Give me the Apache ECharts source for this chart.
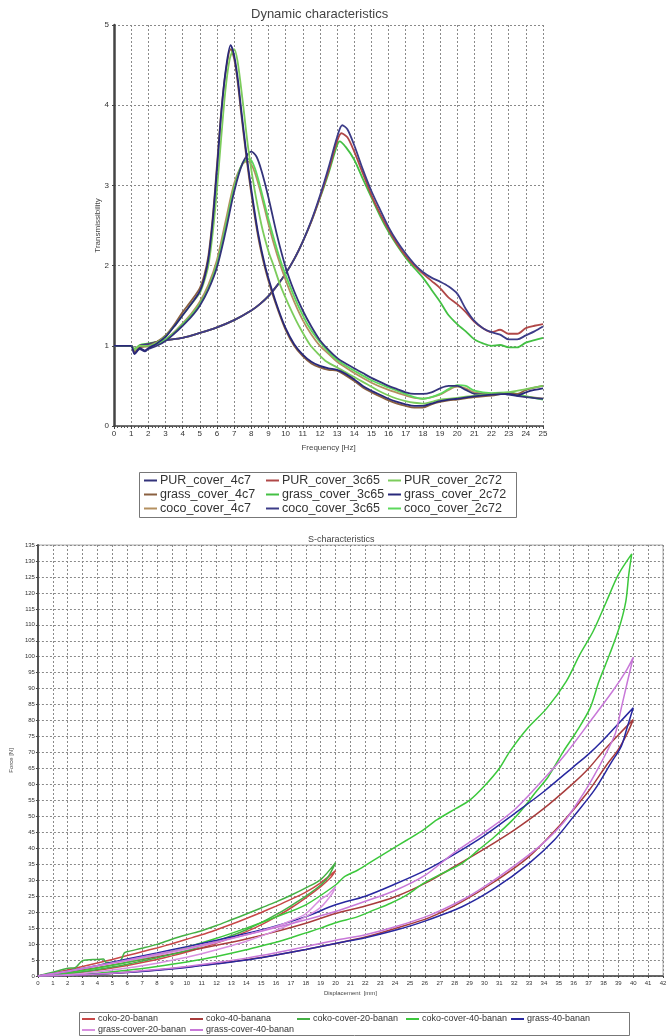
<!DOCTYPE html>
<html>
<head>
<meta charset="utf-8">
<script src="https://cdn.jsdelivr.net/npm/echarts@6/dist/echarts.min.js"></script>
<style>
  html, body { margin: 0; padding: 0; background: #fff; }
  #main { width: 671px; height: 1036px; }
</style>
</head>
<body>
<div id="main"></div>
<script>
// ---- Dynamic characteristics: [frequency Hz, transmissibility] ----
const PUR_cover_4c7 = [[0,1.0],[1,1.0],[1.2,0.9],[1.5,0.96],[1.8,0.93],[2,0.96],[2.5,1.0],[3,1.06],[3.5,1.15],[4,1.25],[4.5,1.36],[5,1.5],[5.5,1.7],[6,1.98],[6.5,2.42],[7,2.92],[7.5,3.28],[8,3.42],[8.3,3.36],[8.6,3.18],[9,2.85],[9.5,2.38],[10,1.98],[10.5,1.68],[11,1.44],[11.5,1.24],[12,1.07],[12.5,0.95],[13,0.85],[13.5,0.78],[14,0.72],[14.5,0.66],[15,0.6],[15.5,0.55],[16,0.5],[16.5,0.46],[17,0.42],[17.5,0.4],[18,0.4],[18.5,0.42],[19,0.47],[19.5,0.5],[20,0.5],[20.5,0.45],[21,0.4],[22,0.39],[22.5,0.41],[23,0.39],[24,0.36],[25,0.34]];
const PUR_cover_3c65 = [[0,1.0],[1,1.0],[1.2,0.96],[1.5,1.0],[2,1.02],[2.5,1.05],[3,1.07],[4,1.1],[5,1.16],[6,1.23],[7,1.32],[8,1.44],[8.5,1.52],[9,1.62],[9.5,1.75],[10,1.9],[10.5,2.08],[11,2.3],[11.5,2.55],[12,2.85],[12.5,3.18],[13,3.55],[13.25,3.65],[13.6,3.6],[14,3.42],[14.5,3.15],[15,2.88],[15.5,2.65],[16,2.45],[16.5,2.27],[17,2.12],[17.5,2.0],[18,1.9],[18.5,1.81],[19,1.72],[19.5,1.6],[20,1.52],[20.5,1.42],[21,1.3],[21.5,1.22],[22,1.17],[22.5,1.2],[23,1.15],[23.5,1.15],[24,1.22],[24.5,1.25],[25,1.27]];
const PUR_cover_2c72 = [[0,1.0],[1,1.0],[1.2,0.95],[1.5,1.0],[2,1.0],[2.5,1.04],[3,1.12],[3.5,1.24],[4,1.38],[4.5,1.52],[5,1.66],[5.25,1.8],[5.5,2.0],[5.75,2.4],[6,2.95],[6.25,3.6],[6.5,4.2],[6.75,4.58],[7.0,4.7],[7.2,4.55],[7.5,4.05],[7.8,3.5],[8.15,3.0],[8.6,2.5],[9.0,2.18],[9.3,2.0],[9.7,1.75],[10.2,1.5],[10.6,1.32],[10.9,1.2],[11.4,1.02],[11.9,0.9],[12.4,0.8],[13,0.73],[13.5,0.67],[14,0.61],[14.5,0.55],[15,0.49],[15.5,0.43],[16,0.38],[16.5,0.34],[17,0.31],[17.5,0.29],[18,0.28],[18.5,0.3],[19,0.33],[20,0.35],[21,0.38],[22,0.4],[23,0.42],[24,0.46],[25,0.5]];
const grass_cover_4c7 = [[0,1.0],[1,1.0],[1.2,0.92],[1.5,0.98],[2,1.0],[2.5,1.05],[3,1.13],[3.5,1.26],[4,1.42],[4.5,1.56],[5,1.72],[5.25,1.87],[5.5,2.12],[5.75,2.6],[6,3.25],[6.25,3.92],[6.5,4.4],[6.8,4.7],[7.0,4.58],[7.2,4.3],[7.4,3.92],[7.7,3.38],[8,2.9],[8.4,2.36],[8.8,1.97],[9.2,1.67],[9.6,1.42],[10,1.2],[10.5,1.0],[11,0.87],[11.5,0.78],[12,0.73],[12.5,0.7],[13,0.69],[13.5,0.63],[14,0.56],[14.5,0.48],[15,0.42],[15.5,0.37],[16,0.32],[16.5,0.28],[17,0.25],[17.5,0.23],[18,0.23],[18.5,0.27],[19,0.3],[19.5,0.32],[20,0.33],[21,0.36],[22,0.38],[23,0.41],[23.5,0.4],[24,0.45],[24.5,0.48],[25,0.5]];
const grass_cover_3c65 = [[0,1.0],[1,1.0],[1.2,0.96],[1.5,1.01],[2,1.03],[2.5,1.05],[3,1.07],[4,1.1],[5,1.16],[6,1.23],[7,1.32],[8,1.44],[8.5,1.52],[9,1.62],[9.5,1.75],[10,1.9],[10.5,2.08],[11,2.3],[11.5,2.55],[12,2.84],[12.5,3.15],[13,3.5],[13.15,3.55],[13.5,3.48],[14,3.32],[14.5,3.08],[15,2.85],[15.5,2.62],[16,2.42],[16.5,2.25],[17,2.1],[17.5,1.97],[18,1.85],[18.5,1.7],[19,1.55],[19.5,1.38],[20,1.27],[20.5,1.18],[21,1.08],[21.5,1.03],[22,1.0],[22.5,1.01],[23,0.98],[23.5,0.98],[24,1.04],[24.5,1.07],[25,1.1]];
const grass_cover_2c72 = [[0,1.0],[0.5,1.0],[1,1.0],[1.2,0.9],[1.5,0.97],[1.8,0.94],[2,0.97],[2.5,1.03],[3,1.11],[3.5,1.24],[4,1.38],[4.5,1.52],[5,1.68],[5.25,1.83],[5.5,2.08],[5.75,2.55],[6,3.2],[6.25,3.9],[6.5,4.42],[6.8,4.75],[7.0,4.62],[7.2,4.35],[7.4,3.97],[7.7,3.42],[8,2.95],[8.4,2.4],[8.8,2.0],[9.2,1.7],[9.6,1.44],[10,1.22],[10.5,1.02],[11,0.89],[11.5,0.8],[12,0.75],[12.5,0.72],[13,0.7],[13.5,0.65],[14,0.58],[14.5,0.5],[15,0.44],[15.5,0.39],[16,0.34],[16.5,0.3],[17,0.27],[17.5,0.25],[18,0.25],[18.5,0.28],[19,0.31],[19.5,0.33],[20,0.34],[21,0.37],[22,0.39],[23,0.4],[23.5,0.38],[24,0.42],[24.5,0.45],[25,0.47]];
const coco_cover_4c7 = [[0,1.0],[1,1.0],[1.2,0.94],[1.5,0.99],[2,0.99],[2.5,1.02],[3,1.08],[3.5,1.17],[4,1.28],[4.5,1.4],[5,1.55],[5.5,1.76],[6,2.07],[6.5,2.55],[7,3.02],[7.5,3.27],[7.8,3.3],[8.1,3.22],[8.5,2.95],[9,2.52],[9.5,2.14],[10,1.82],[10.5,1.55],[11,1.32],[11.5,1.14],[12,1.0],[12.5,0.9],[13,0.8],[13.5,0.73],[14,0.66],[15,0.54],[16,0.45],[17,0.38],[17.5,0.35],[18,0.34],[19,0.39],[19.5,0.45],[20,0.49],[20.5,0.47],[21,0.42],[22,0.4],[23,0.4],[24,0.37],[25,0.34]];
const coco_cover_3c65 = [[0,1.0],[1,1.0],[1.2,0.95],[1.5,1.0],[2,1.02],[2.5,1.05],[3,1.07],[4,1.1],[5,1.16],[6,1.23],[7,1.32],[8,1.44],[8.5,1.52],[9,1.62],[9.5,1.75],[10,1.9],[10.5,2.08],[11,2.3],[11.5,2.56],[12,2.87],[12.5,3.22],[13,3.6],[13.3,3.75],[13.6,3.7],[14,3.5],[14.5,3.2],[15,2.93],[15.5,2.7],[16,2.48],[16.5,2.3],[17,2.15],[17.5,2.02],[18,1.92],[18.5,1.85],[19,1.8],[19.5,1.74],[20,1.65],[20.5,1.46],[21,1.31],[21.5,1.22],[22,1.17],[22.5,1.14],[23,1.08],[23.5,1.08],[24,1.13],[24.5,1.18],[25,1.24]];
const coco_cover_2c72 = [[0,1.0],[1,1.0],[1.2,0.96],[1.5,1.0],[2,1.0],[2.5,1.02],[3,1.08],[3.5,1.16],[4,1.27],[4.5,1.38],[5,1.52],[5.5,1.72],[6,2.02],[6.5,2.48],[7,2.97],[7.5,3.28],[7.9,3.33],[8.2,3.22],[8.5,3.0],[9,2.58],[9.5,2.2],[9.8,2.0],[10.3,1.72],[10.8,1.47],[11.3,1.26],[11.8,1.1],[12.3,0.97],[12.8,0.86],[13.3,0.78],[14,0.69],[15,0.57],[16,0.48],[17,0.4],[17.5,0.36],[18,0.34],[18.5,0.36],[19,0.4],[19.5,0.46],[20,0.51],[20.5,0.5],[21,0.44],[22,0.41],[23,0.42],[24,0.37],[25,0.33]];

// ---- S-characteristics: [displacement mm, force N], loading then unloading ----
const coko20 = [[0,0],[1,0.9],[2,1.9],[3,3],[4,4.1],[5,5.2],[6,6.4],[7,7.6],[8,8.8],[9,10.1],[10,11.5],[11,12.9],[12,14.5],[13,16.2],[14,18],[15,19.9],[16,21.9],[17,24],[18,26.3],[19,29.2],[20,33],[19.7,31],[19,28],[18,24.5],[17,21.3],[16,18.5],[15,16],[14,13.9],[13,12],[12,10.3],[11,8.8],[10,7.5],[9,6.3],[8,5.2],[7,4.2],[6,3.3],[5,2.5],[4,1.8],[3,1.2],[2,0.7],[1,0.3],[0,0]];
const coko40 = [[0,0],[2,1.2],[4,2.6],[6,4.3],[8,6],[10,7.8],[12,9.6],[14,11.6],[16,13.9],[18,16.5],[20,19.6],[22,21.9],[24,24.8],[26,29],[28,34.3],[30,39.8],[32,45.7],[34,52.5],[36,60.5],[37,65],[38,70.5],[39,75.5],[40,80.3],[39.6,76],[39,71],[38.2,66],[36.9,57.3],[35.2,47.9],[33,37.4],[30.7,29.6],[28.5,23.3],[26.3,18.3],[24,14.9],[22,12.2],[20,10.2],[18,8.3],[16,6.6],[14,5.1],[12,3.9],[10,2.8],[8,1.9],[6,1.2],[4,0.6],[2,0.2],[0,0]];
const cokoCover20 = [[0,0],[1,1.2],[2,2.4],[2.5,2.6],[3,4.8],[4,5.2],[4.4,5.3],[4.6,4.2],[5.5,4.6],[5.8,7.2],[6,7.6],[7,8.7],[8,9.9],[9,11.5],[10,12.9],[11,14.2],[12,15.8],[13,17.6],[14,19.4],[15,21.3],[16,23.2],[17,25.3],[18,27.6],[19,30.2],[20,35.5],[19.5,31],[19,28.5],[18,25],[17,22],[16,19.2],[15,16.7],[14,14.5],[13,12.6],[12,10.9],[11,9.4],[10,8],[9,6.8],[8,5.7],[7,4.7],[6,3.7],[5,2.8],[4,2],[3,1.3],[2,0.7],[1,0.3],[0,0]];
const cokoCover40 = [[0,0],[2,1],[4,2.5],[6,4.3],[8,6.5],[10,9],[12,11.8],[14,15],[16,18.5],[18,22.3],[20,28.5],[20.6,31.1],[21.5,33.2],[22.6,36.4],[23.7,39.5],[24.8,42.6],[25.9,45.8],[26.8,48.9],[28.1,52.5],[29,55],[30,59.5],[31,65],[31.7,70.3],[32.9,77.6],[34.2,83.9],[35.5,92.3],[36.4,100.6],[37.3,107.9],[38.2,117.3],[39,125.7],[39.9,132.2],[39.7,125.7],[39.5,117.3],[39.05,109],[38.4,100.6],[37.7,92.3],[37.1,83.9],[36.2,76.6],[35.3,70.3],[34.3,62.5],[33.4,57.3],[32.7,53.1],[31.9,48.9],[30.7,43.7],[29.6,39.5],[28.5,35.3],[27.2,32.2],[25.9,29],[24.8,25.4],[23.7,22.8],[22.6,20.7],[21.5,18.6],[20,16.7],[19,15],[18,13.5],[17,12],[16,10.6],[15,9.4],[14,8.2],[12,6.1],[10,4.4],[8,3],[6,1.8],[4,0.9],[2,0.3],[0,0]];
const grass40 = [[0,0],[2,1.5],[4,3.3],[6,5.3],[8,7.2],[10,9.2],[12,11.2],[14,13.3],[16,15.7],[18,18.6],[20,22.3],[22,25],[24,28.8],[26,33],[28,38.2],[30,44],[32,50.8],[34,57.8],[36,65.6],[37,69.5],[38,74],[39,79],[40,84],[39.6,78],[39.2,72],[38.5,66.7],[37.4,58.3],[36,50],[34.7,42.6],[33,35.3],[30.7,27.5],[28.5,21.7],[26,17.2],[24,14.3],[22,12],[20,10.2],[18,8.3],[16,6.6],[14,5],[12,3.8],[10,2.7],[8,1.8],[6,1.1],[4,0.6],[2,0.2],[0,0]];
const grassCover20 = [[0,0],[2,1.5],[4,3.2],[6,4.8],[8,6.5],[10,8.4],[12,10.5],[14,12.9],[16,15.5],[17,17.3],[18,19.5],[19,24],[19.5,25.5],[20,28],[19.8,26],[19,21.5],[18,18.6],[17,16.3],[16,14.3],[15,12.5],[14,10.9],[13,9.5],[12,8.2],[11,7],[10,5.9],[9,4.9],[8,4],[7,3.2],[6,2.5],[5,1.9],[4,1.3],[3,0.8],[2,0.4],[1,0.15],[0,0]];
const grassCover40 = [[0,0],[2,1.4],[4,3.2],[6,5],[8,6.9],[10,8.7],[12,10.7],[14,12.9],[16,15.2],[18,17.6],[20,20.2],[22,23.4],[24,26.8],[26,31.5],[28,38.7],[30,45],[32,52],[34,61.8],[35.5,69.8],[37.1,79.7],[38.6,89.1],[39.5,95.4],[40,99.8],[39.6,92],[39.2,84],[38.8,76],[38.2,70],[37.4,63],[36.5,56],[35.3,48],[33.8,41],[32,34.5],[30,28],[28.5,23.8],[26.3,19],[24,15.4],[22,12.9],[20,11.2],[18,9.2],[16,7.3],[14,5.6],[12,4.2],[10,3],[8,2],[6,1.2],[4,0.6],[2,0.2],[0,0]];

const FONT = "'Liberation Sans', Arial, sans-serif";
const dashed = {show: true, lineStyle: {color: '#8a8a8a', type: [2, 2], width: 1}};

function line(name, data, color, gi, width) {
  return {
    name: name, type: 'line', data: data,
    xAxisIndex: gi, yAxisIndex: gi,
    symbol: 'none', smooth: 0.3, animation: false,
    lineStyle: {color: color, width: width},
    itemStyle: {color: color}
  };
}

function colLegend(names, left, top, size, lh) {
  return {
    data: names, orient: 'vertical', left: left, top: top,
    padding: 0, itemGap: 1, itemWidth: 13, itemHeight: 2,
    icon: 'rect', selectedMode: false,
    textStyle: {fontFamily: FONT, fontSize: size, color: '#333', lineHeight: lh, padding: [0, 0, 0, -2]}
  };
}

const chart = echarts.init(document.getElementById('main'));
const option = {
  backgroundColor: '#fff',
  animation: false,
  title: [
    {text: 'Dynamic characteristics', left: 246, top: 3,
      textStyle: {fontFamily: FONT, fontSize: 13, fontWeight: 'normal', color: '#444'}},
    {text: 'S-characteristics', left: 303, top: 530,
      textStyle: {fontFamily: FONT, fontSize: 9, fontWeight: 'normal', color: '#444'}}
  ],
  grid: [
    {left: 114, top: 25, width: 429, height: 401},
    {left: 32, top: 545, width: 631, height: 431, show: true, borderColor: '#aaa', borderWidth: 1}
  ],
  xAxis: [
    {type: 'value', gridIndex: 0, min: 0, max: 25, interval: 1,
      name: 'Frequency [Hz]', nameLocation: 'middle', nameGap: 18,
      nameTextStyle: {fontFamily: FONT, fontSize: 8, color: '#444'},
      axisLine: {lineStyle: {color: '#444', width: 1.5}},
      axisTick: {show: true, length: 3, lineStyle: {color: '#444'}},
      minorTick: {show: true, splitNumber: 5, length: 2, lineStyle: {color: '#555'}},
      axisLabel: {fontFamily: FONT, fontSize: 8, color: '#333', margin: 4},
      splitLine: dashed},
    {type: 'value', gridIndex: 1, min: 0, max: 42, interval: 1,
      name: 'Displacement  [mm]', nameLocation: 'middle', nameGap: 14,
      nameTextStyle: {fontFamily: FONT, fontSize: 6, color: '#444'},
      axisLine: {lineStyle: {color: '#444', width: 1.5}},
      axisTick: {show: true, length: 2, lineStyle: {color: '#444'}},
      axisLabel: {fontFamily: FONT, fontSize: 6, color: '#333', margin: 4},
      splitLine: dashed}
  ],
  yAxis: [
    {type: 'value', gridIndex: 0, min: 0, max: 5, interval: 1,
      name: 'Transmissibility', nameLocation: 'middle', nameGap: 12,
      nameMoveOverlap: false,
      nameTextStyle: {fontFamily: FONT, fontSize: 8, color: '#444'},
      axisLine: {show: true, lineStyle: {color: '#444', width: 2.5}},
      axisTick: {show: true, length: 2, lineStyle: {color: '#444'}},
      axisLabel: {fontFamily: FONT, fontSize: 8, color: '#333', margin: 5},
      splitLine: dashed},
    {type: 'value', gridIndex: 1, min: 0, max: 135, interval: 5,
      name: 'Force [N]', nameLocation: 'middle', nameGap: 19,
      nameTextStyle: {fontFamily: FONT, fontSize: 6, color: '#444'},
      axisLine: {show: true, lineStyle: {color: '#555', width: 2}},
      axisTick: {show: true, length: 2, lineStyle: {color: '#444'}},
      axisLabel: {fontFamily: FONT, fontSize: 6, color: '#333', margin: 3},
      splitLine: dashed}
  ],
  legend: [
    colLegend(['PUR_cover_4c7', 'grass_cover_4c7', 'coco_cover_4c7'], 144, 474, 12.5, 13),
    colLegend(['PUR_cover_3c65', 'grass_cover_3c65', 'coco_cover_3c65'], 266, 474, 12.5, 13),
    colLegend(['PUR_cover_2c72', 'grass_cover_2c72', 'coco_cover_2c72'], 388, 474, 12.5, 13),
    colLegend(['coko-20-banan', 'grass-cover-20-banan'], 82, 1014, 9, 10),
    colLegend(['coko-40-banana', 'grass-cover-40-banan'], 190, 1014, 9, 10),
    colLegend(['coko-cover-20-banan'], 297, 1014, 9, 10),
    colLegend(['coko-cover-40-banan'], 406, 1014, 9, 10),
    colLegend(['grass-40-banan'], 511, 1014, 9, 10)
  ],
  graphic: [
    {type: 'rect', z: -1, shape: {x: 139.5, y: 472.5, width: 377, height: 45},
      style: {fill: '#fff', stroke: '#777', lineWidth: 1}},
    {type: 'rect', z: -1, shape: {x: 79.5, y: 1012.5, width: 550, height: 23},
      style: {fill: '#fff', stroke: '#777', lineWidth: 1}}
  ],
  series: [
    line('grass_cover_3c65', grass_cover_3c65, '#44c044', 0, 1.8),
    line('PUR_cover_3c65', PUR_cover_3c65, '#b04848', 0, 1.8),
    line('coco_cover_3c65', coco_cover_3c65, '#3c3c88', 0, 1.8),
    line('coco_cover_4c7', coco_cover_4c7, '#b49060', 0, 1.8),
    line('coco_cover_2c72', coco_cover_2c72, '#5cd85c', 0, 1.8),
    line('PUR_cover_4c7', PUR_cover_4c7, '#33337a', 0, 1.8),
    line('grass_cover_4c7', grass_cover_4c7, '#8a6040', 0, 1.8),
    line('PUR_cover_2c72', PUR_cover_2c72, '#7ccc5c', 0, 1.8),
    line('grass_cover_2c72', grass_cover_2c72, '#28287a', 0, 1.8),

    line('coko-20-banan', coko20, '#c84848', 1, 1.5),
    line('coko-40-banana', coko40, '#a83c3c', 1, 1.5),
    line('coko-cover-20-banan', cokoCover20, '#44b044', 1, 1.5),
    line('coko-cover-40-banan', cokoCover40, '#3cc83c', 1, 1.5),
    line('grass-40-banan', grass40, '#2828a0', 1, 1.5),
    line('grass-cover-20-banan', grassCover20, '#d890e0', 1, 1.5),
    line('grass-cover-40-banan', grassCover40, '#c878d8', 1, 1.5)
  ]
};
chart.setOption(option);
</script>
</body>
</html>
